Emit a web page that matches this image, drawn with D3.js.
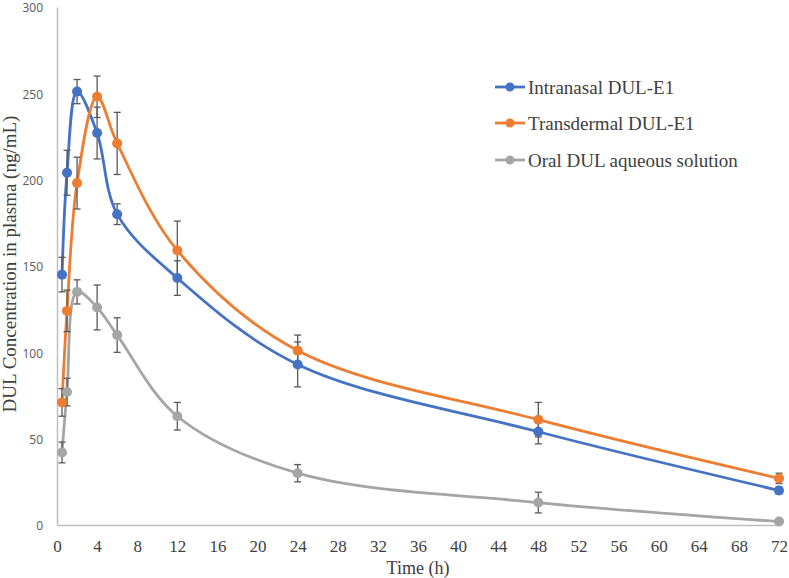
<!DOCTYPE html>
<html>
<head>
<meta charset="utf-8">
<script src="https://cdn.jsdelivr.net/npm/d3@7"></script>
<style>
body{margin:0;background:#fff;}
svg{display:block;}
</style>
</head>
<body>
<svg id="chart" width="789" height="578"></svg>
<script>
const times = [0.5, 1, 2, 4, 6, 12, 24, 48, 72];
const intranasal = [145, 204, 251, 227, 180, 143, 93, 54, 20];
const intranasalErr = [10, 13, 7, 15, 6, 10, 13, 7, 2];
const transdermal = [71, 124, 198, 248, 221, 159, 101, 61, 27];
const transdermalErr = [8, 12, 15, 12, 18, 17, 9, 10, 3];
const oral = [42, 77, 135, 126, 110, 63, 30, 13, 2];
const oralErr = [6, 8, 7, 13, 10, 8, 5, 6, 1];
const seriesNames = ["Intranasal DUL-E1", "Transdermal DUL-E1", "Oral DUL aqueous solution"];
const xTicks = d3.range(0, 73, 4);
const yTicks = [0, 50, 100, 150, 200, 250, 300];

const colors = ["#4472C4", "#ED7D31", "#A5A5A5"];
const series = [
  {name: seriesNames[0], values: intranasal, err: intranasalErr, color: colors[0]},
  {name: seriesNames[1], values: transdermal, err: transdermalErr, color: colors[1]},
  {name: seriesNames[2], values: oral, err: oralErr, color: colors[2]}
];

const SERIF = "'Liberation Serif', 'Times New Roman', serif";
const SANS = "'Open Sans', 'Liberation Sans', sans-serif";

const svg = d3.select("#chart");
const x = d3.scaleLinear().domain([0, 72]).range([57, 779]);
const y = d3.scaleLinear().domain([0, 300]).range([525, 7]);

// axes
const xAxis = svg.append("g").attr("transform", "translate(0,525)")
  .call(d3.axisBottom(x).tickValues(xTicks).tickSize(0).tickPadding(15));
xAxis.select(".domain").attr("stroke", "#BFBFBF").attr("stroke-width", 1.5);
xAxis.selectAll("text").style("font-family", SERIF).style("font-size", "17px").attr("fill", "#404040");

const yAxis = svg.append("g").attr("transform", "translate(57,0)")
  .call(d3.axisLeft(y).tickValues(yTicks).tickSize(0).tickPadding(14));
yAxis.select(".domain").attr("stroke", "#BFBFBF").attr("stroke-width", 1.5);
yAxis.selectAll("text").style("font-family", SANS).style("font-size", "12px").attr("fill", "#595959")
  .attr("dy", "0.4em");

// axis titles
svg.append("text").attr("x", (x(0)+x(72))/2).attr("y", 574)
  .attr("text-anchor", "middle").style("font-family", SERIF).style("font-size", "18px")
  .attr("fill", "#404040").text("Time (h)");
svg.append("text").attr("transform", "translate(16," + (y(150) - 2) + ") rotate(-90)")
  .attr("text-anchor", "middle").style("font-family", SERIF).style("font-size", "19px")
  .attr("fill", "#404040").text("DUL Concentration in plasma (ng/mL)");

const line = d3.line().x((d, i) => x(times[i])).y(d => y(d)).curve(d3.curveCatmullRom.alpha(0.5));

series.forEach(s => {
  svg.append("path").datum(s.values).attr("d", line)
    .attr("fill", "none").attr("stroke", s.color).attr("stroke-width", 2.8);
});

// error bars
series.forEach(s => {
  const g = svg.append("g").attr("stroke", "#595959").attr("stroke-width", 1.3);
  s.values.forEach((v, i) => {
    const cx = x(times[i]);
    const top = y(v + s.err[i]), bot = y(v - s.err[i]);
    g.append("line").attr("x1", cx).attr("x2", cx).attr("y1", top).attr("y2", bot);
    g.append("line").attr("x1", cx - 3.5).attr("x2", cx + 3.5).attr("y1", top).attr("y2", top);
    g.append("line").attr("x1", cx - 3.5).attr("x2", cx + 3.5).attr("y1", bot).attr("y2", bot);
  });
});

// markers
series.forEach(s => {
  svg.append("g").selectAll("circle").data(s.values).join("circle")
    .attr("cx", (d, i) => x(times[i])).attr("cy", d => y(d)).attr("r", 5)
    .attr("fill", s.color);
});

// legend
const legendY = [87, 123, 160];
series.forEach((s, i) => {
  const g = svg.append("g");
  g.append("line").attr("x1", 495).attr("x2", 525).attr("y1", legendY[i]).attr("y2", legendY[i])
    .attr("stroke", s.color).attr("stroke-width", 2.8);
  g.append("circle").attr("cx", 510).attr("cy", legendY[i]).attr("r", 4.5).attr("fill", s.color);
  g.append("text").attr("x", 528).attr("y", legendY[i]).attr("dy", "0.35em")
    .style("font-family", SERIF).style("font-size", "19px").attr("fill", "#404040").text(s.name);
});
</script>
</body>
</html>
